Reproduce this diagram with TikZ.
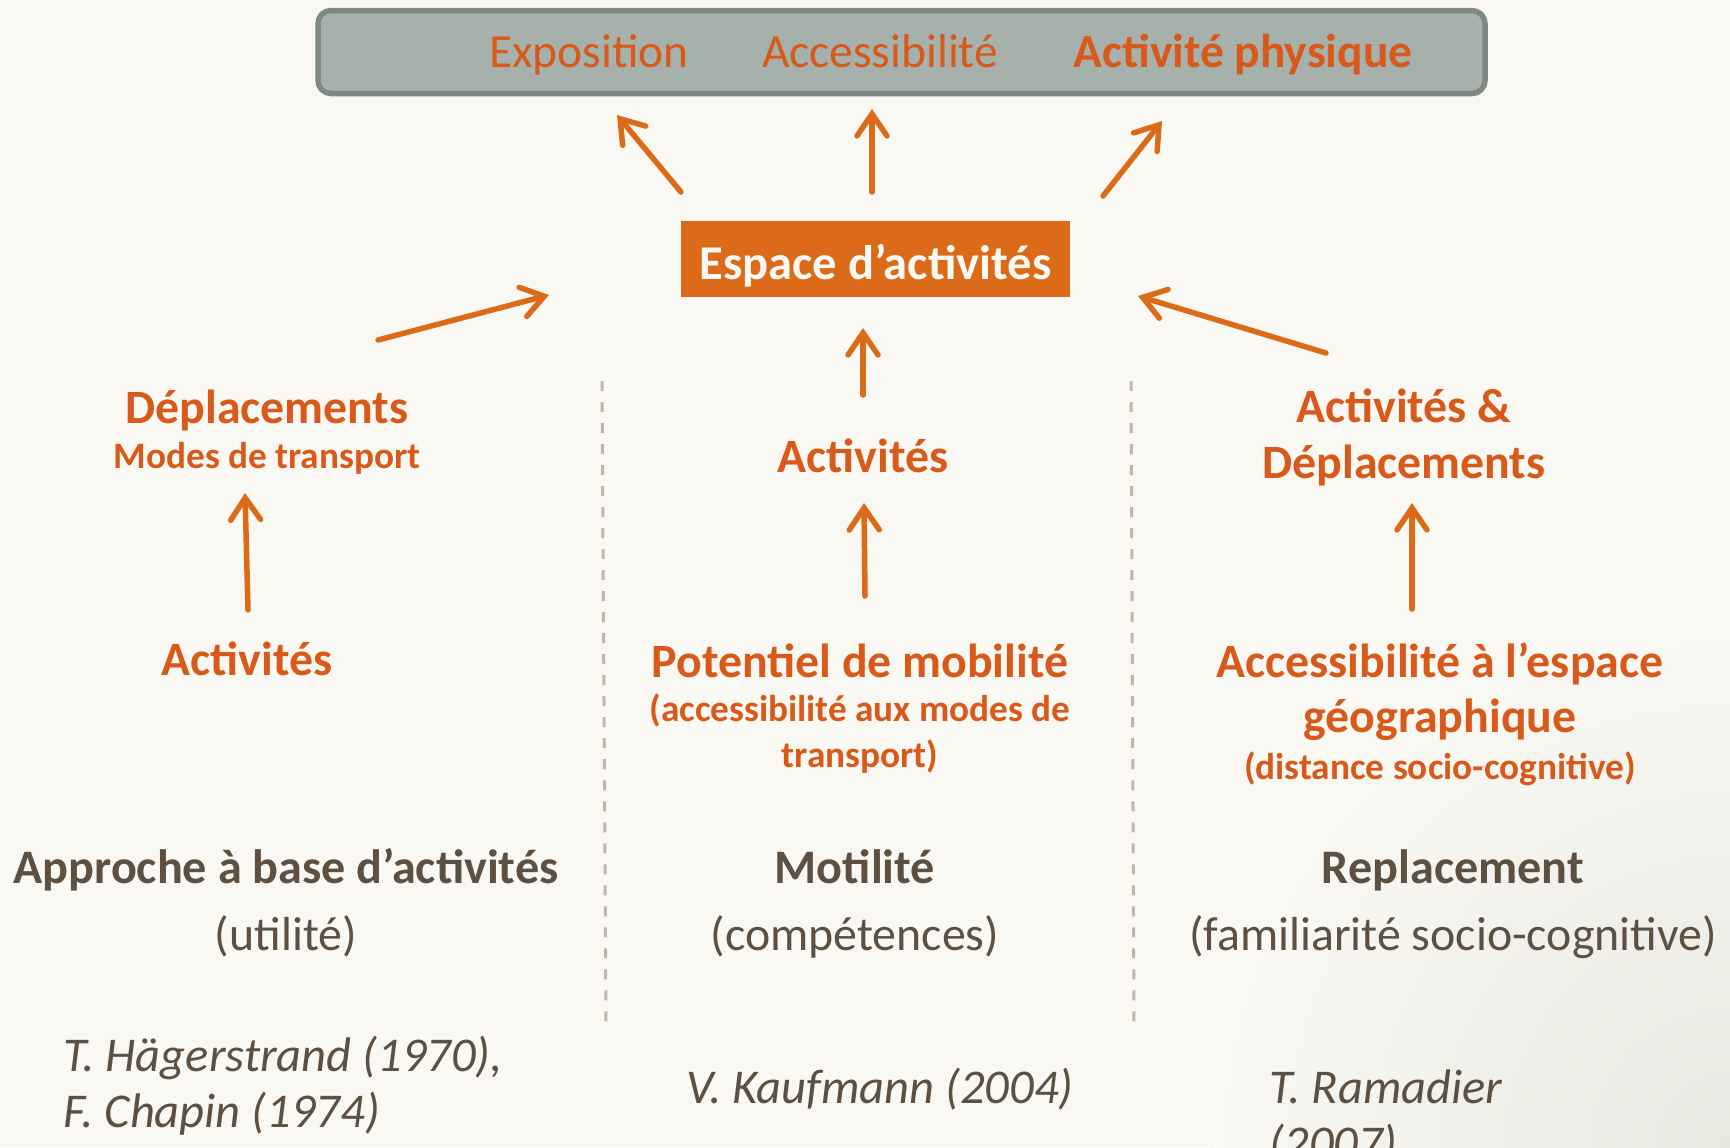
\documentclass[tikz,border=0pt]{standalone}
\usepackage{fontspec}
\setmainfont{Carlito}
\usetikzlibrary{arrows.meta}

\definecolor{bgcream}{HTML}{F9F8F2}
\definecolor{bgshade}{HTML}{E8E7E0}
\definecolor{boxgray}{HTML}{A6B1AB}
\definecolor{boxedge}{HTML}{7E8984}
\definecolor{orangetxt}{HTML}{D8591A}
\definecolor{orangebox}{HTML}{DC6B19}
\definecolor{browntxt}{HTML}{5D5040}
\definecolor{dashgray}{HTML}{C4B5A5}

\begin{document}
\begin{tikzpicture}[x=0.01cm,y=-0.01cm]
    \tikzstyle{every node}=[inner sep=0pt, anchor=base]
    \tikzstyle{toptxt}=[font=\fontsize{13.5}{16}\selectfont, text=orangetxt]
    \tikzstyle{lead}=[font=\fontsize{13.6}{16}\selectfont\bfseries, text=orangetxt]
    \tikzstyle{sub}=[font=\fontsize{10.6}{13}\selectfont\bfseries, text=orangetxt]
    \tikzstyle{approach}=[font=\fontsize{13.7}{16}\selectfont\bfseries, text=browntxt]
    \tikzstyle{gloss}=[font=\fontsize{13.6}{16}\selectfont, text=browntxt]
    \tikzstyle{ref}=[font=\fontsize{13.8}{16}\selectfont\itshape, text=browntxt, anchor=base west]
    \tikzstyle{link}=[draw=orangebox, line width=0.055cm, line cap=round,
        -{Straight Barb[length=0.22cm, width=0.3cm, line cap=round]}]
    \tikzstyle{divider}=[draw=dashgray, line width=0.03cm, dash pattern=on 0.1cm off 0.11cm]

    % background
    \fill[bgcream] (0,0) rectangle (1730,1147);
    \begin{scope}
        \clip (0,0) rectangle (1730,1147);
        \shade[inner color=bgshade, outer color=bgcream] (1730,1147) circle (520);
    \end{scope}
    \useasboundingbox (0,0) rectangle (1730,1147);

    % top box
    \draw[fill=boxgray, draw=boxedge, line width=0.055cm, rounded corners=0.13cm]
        (318,10.5) rectangle (1485,93.5);
    \node[toptxt] (expo) at (589,67) {Exposition};
    \node[toptxt] (acces) at (880,67) {Accessibilité};
    \node[toptxt, font=\fontsize{13.5}{16}\selectfont\bfseries] (actphys) at (1243,67) {Activité physique};

    % central box
    \node[fill=orangebox, minimum width=3.89cm, minimum height=0.76cm, anchor=center,
          text height=0.4cm, text depth=0cm,
          text=bgcream, font=\fontsize{13.8}{16}\selectfont\bfseries] (esp) at (875.5,259) {Espace d’activités};

    % left column
    \node[lead] (dep) at (267,423) {Déplacements};
    \node[sub] (modes) at (267,468) {Modes de transport};
    \node[lead] (actleft) at (247,675) {Activités};
    \node[approach] (approche) at (286,883) {Approche à base d’activités};
    \node[gloss] (utilite) at (286,950) {(utilité)};
    \node[ref] (hager) at (63,1071) {T. Hägerstrand (1970),};
    \node[ref] (chapin) at (63,1127) {F. Chapin (1974)};

    % middle column
    \node[lead] (actmid) at (863,472) {Activités};
    \node[lead] (potentiel) at (860,677) {Potentiel de mobilité};
    \node[sub] (potsub) at (860,721) {(accessibilité aux modes de};
    \node[sub] (potsubb) at (860,767) {transport)};
    \node[approach] (motilite) at (855,883) {Motilité};
    \node[gloss] (compet) at (855,950) {(compétences)};
    \node[ref] (kauf) at (686,1103) {V. Kaufmann (2004)};

    % right column
    \node[lead] (actdep) at (1404,422) {Activités \&};
    \node[lead] (actdepb) at (1404,478) {Déplacements};
    \node[lead] (accgeo) at (1440,677) {Accessibilité à l’espace};
    \node[lead] (accgeob) at (1440,732) {géographique};
    \node[sub] (distance) at (1440,779) {(distance socio-cognitive)};
    \node[approach] (replace) at (1453,883) {Replacement};
    \node[gloss] (famil) at (1453,950) {(familiarité socio-cognitive)};
    \node[ref] (ramad) at (1269,1103) {T. Ramadier};
    \node[ref] (ramadb) at (1269,1159) {(2007)};

    % arrow ends
    \coordinate (e1) at (681,192);  \coordinate (t1) at (617,115);
    \coordinate (e2) at (872,192);  \coordinate (t2) at (872,109);
    \coordinate (e3) at (1103,196); \coordinate (t3) at (1162,121);
    \coordinate (l1) at (378,340);  \coordinate (l2) at (549,295);
    \coordinate (r1) at (1326,353); \coordinate (r2) at (1138,296);
    \coordinate (m1) at (863,395);  \coordinate (m2) at (863,328);
    \coordinate (m3) at (865,596);  \coordinate (m4) at (864,503);
    \coordinate (l3) at (248,610);  \coordinate (l4) at (245,493);
    \coordinate (r3) at (1412,609); \coordinate (r4) at (1412,503);

    \path[link] (e1) -- (t1);
    \path[link] (e2) -- (t2);
    \path[link] (e3) -- (t3);
    \path[link] (l1) -- (l2);
    \path[link] (r1) -- (r2);
    \path[link] (m1) -- (m2);
    \path[link] (m3) -- (m4);
    \path[link] (l3) -- (l4);
    \path[link] (r3) -- (r4);

    % column dividers
    \coordinate (d1) at (602,381);  \coordinate (d2) at (606,1024);
    \coordinate (d3) at (1131,381); \coordinate (d4) at (1134,1024);
    \path[divider] (d1) -- (d2);
    \path[divider] (d3) -- (d4);
\end{tikzpicture}
\end{document}
